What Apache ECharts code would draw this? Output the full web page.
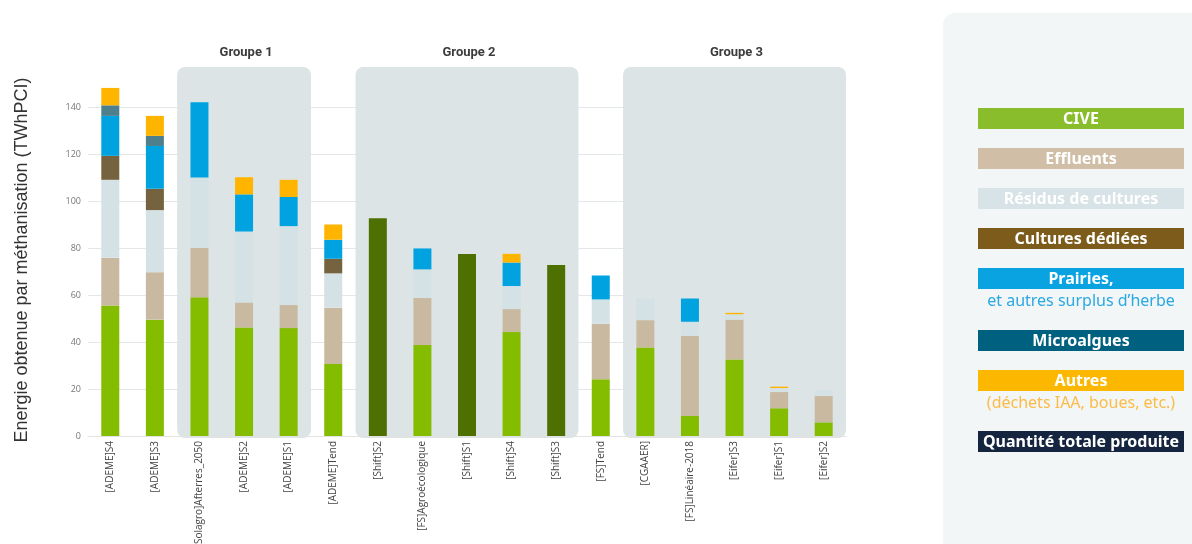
<!DOCTYPE html>
<html>
<head>
<meta charset="utf-8">
<script src="https://cdn.jsdelivr.net/npm/echarts@6/dist/echarts.min.js"></script>
<style>
  html, body { margin: 0; padding: 0; background: #fff; }
  #chart { width: 1192px; height: 544px; }
</style>
</head>
<body>
<div id="chart"></div>
<script>
// scénarios (axe des x)
const categories = ['[ADEME]S4', '[ADEME]S3', '[Solagro]Afterres_2050', '[ADEME]S2', '[ADEME]S1', '[ADEME]Tend',
    '[Shift]S2', '[FS]Agroécologique', '[Shift]S1', '[Shift]S4', '[Shift]S3', '[FS]Tend',
    '[CGAAER]', '[FS]Linéaire-2018', '[Eifer]S3', '[Eifer]S1', '[Eifer]S2'];

// groupe de chaque scénario (null = hors groupe)
const groupOf = [null, null, 1, 1, 1, null, 2, 2, 2, 2, 2, null, 3, 3, 3, 3, 3];
const groupNames = ['Groupe 1', 'Groupe 2', 'Groupe 3'];

// TWhPCI par gisement
const cive      = [55.5, 49.5, 59, 46.2, 45.9, 30.6, null, 38.7, null, 44.2, null, 24.1, 37.7, 8.5, 32.6, 11.8, 5.8];
const effluents = [20.3, 20.2, 21, 10.6, 9.8, 24, null, 20, null, 9.8, null, 23.6, 11.6, 34.1, 16.9, 6.9, 11.2];
const residus   = [33.2, 26.4, 30, 30.2, 33.6, 14.6, null, 12.2, null, 9.8, null, 10.4, 9.2, 6, 2.3, 1.7, 2.5];
const cultures  = [10.2, 9.1, null, null, null, 6.2, null, null, null, null, null, null, null, null, null, null, null];
const prairies  = [17, 18.2, 32, 15.8, 12.4, 8.1, null, 8.9, null, 10, null, 10.2, null, 9.9, null, null, null];
const microalg  = [4.5, 4.3, null, null, null, null, null, null, null, null, null, null, null, null, null, null, null];
const autres    = [7.4, 8.5, null, 7.3, 7.3, 6.5, null, null, null, 3.7, null, null, null, null, 0.6, 0.6, null];
const totale    = [null, null, null, null, null, null, 92.7, null, 77.4, null, 72.8, null, null, null, null, null, null];

const yTicks = { min: 0, max: 157, interval: 20 };

const seriesDefs = [
    { name: 'CIVE', data: cive, color: '#84bc00' },
    { name: 'Effluents', data: effluents, color: '#c9b9a1' },
    { name: 'Résidus de cultures', data: residus, color: '#d4e1e5' },
    { name: 'Cultures dédiées', data: cultures, color: '#75633f' },
    { name: 'Prairies', data: prairies, color: '#00a3e0' },
    { name: 'Microalgues', data: microalg, color: '#4d808c' },
    { name: 'Autres', data: autres, color: '#ffb500' },
    { name: 'Quantité totale produite', data: totale, color: '#4e7000' }
];

// légende (panneau de droite)
const legendItems = [
    { label: 'CIVE', color: '#8abd2b' },
    { label: 'Effluents', color: '#d0bea6' },
    { label: 'Résidus de cultures', color: '#d7e3e6' },
    { label: 'Cultures dédiées', color: '#7d5c1b' },
    { label: 'Prairies,', color: '#08a3e0', sub: 'et autres surplus d\u2019herbe', subColor: '#29a8e2' },
    { label: 'Microalgues', color: '#00607f' },
    { label: 'Autres', color: '#fcb800', sub: '(déchets IAA, boues, etc.)', subColor: '#fbbb47' },
    { label: 'Quantité totale produite', color: '#15253f' }
];

// un cadre par groupe : [premier index, dernier index, hauteur]
const groupBoxes = groupNames.map((name, k) => {
    const idx = groupOf.map((g, i) => g === k + 1 ? i : -1).filter(i => i >= 0);
    return [idx[0], idx[idx.length - 1], yTicks.max];
});

function renderGroup(params, api) {
    const a = api.coord([api.value(0), api.value(2)]);
    const b = api.coord([api.value(1), 0]);
    const bw = api.size([1, 0])[0];
    const x = a[0] - bw / 2;
    const w = b[0] - a[0] + bw;
    return {
        type: 'group',
        children: [{
            type: 'rect',
            shape: { x: x, y: a[1], width: w, height: b[1] - a[1] + 2, r: 8 },
            style: { fill: '#dce4e6' }
        }, {
            type: 'text',
            x: x + w / 2 + 2,
            y: a[1] - 14,
            style: {
                text: groupNames[params.dataIndex],
                font: 'bold 13px Roboto',
                fill: '#3c3c3c',
                align: 'center',
                verticalAlign: 'middle'
            }
        }]
    };
}

const chart = echarts.init(document.getElementById('chart'), null, { renderer: 'canvas' });

const graphics = [
    {
        type: 'rect', left: 943, top: 13, z: 0,
        shape: { width: 270, height: 545, r: 12 },
        style: { fill: '#f3f6f7' }
    },
    {
        type: 'text', x: 22, y: 260, rotation: Math.PI / 2,
        style: {
            text: 'Energie obtenue par méthanisation (TWhPCI)',
            font: '18px "Liberation Sans"', fill: '#333',
            align: 'center', verticalAlign: 'middle'
        }
    }
];

const boxTops = [108, 148, 188, 228, 268, 330, 370, 431];
legendItems.forEach((it, k) => {
    const top = boxTops[k];
    graphics.push({
        type: 'rect', left: 978, top: top, z: 1,
        shape: { width: 206, height: 21 },
        style: { fill: it.color }
    });
    graphics.push({
        type: 'text', x: 1081, y: top + 11, z: 2,
        style: {
            text: it.label, fill: '#fff',
            font: 'bold 16px "Noto Sans"',
            align: 'center', verticalAlign: 'middle'
        }
    });
    if (it.sub) {
        graphics.push({
            type: 'text', x: 1081, y: top + 33, z: 2,
            style: {
                text: it.sub, fill: it.subColor,
                font: '16px "Noto Sans"',
                align: 'center', verticalAlign: 'middle'
            }
        });
    }
});

const option = {
    animation: false,
    grid: { left: 88, right: 346, top: 67, bottom: 108, outerBoundsMode: 'none', containLabel: false },
    xAxis: {
        type: 'category',
        data: categories,
        axisLine: { lineStyle: { color: '#e2e2e2' } },
        axisTick: { show: false },
        axisLabel: {
            rotate: 90,
            interval: 0,
            fontSize: 10,
            fontFamily: '"Open Sans"',
            color: '#444',
            margin: 5
        },
        z: 3
    },
    yAxis: {
        type: 'value',
        min: yTicks.min,
        max: yTicks.max,
        interval: yTicks.interval,
        axisLine: { show: false },
        axisTick: { show: false },
        axisLabel: { fontSize: 9, color: '#777', margin: 7, showMaxLabel: false, fontFamily: '"Open Sans"' },
        splitLine: { showMaxLine: false, lineStyle: { color: '#e4e7e8' } }
    },
    series: [{
        type: 'custom',
        name: 'groupes',
        silent: true,
        clip: false,
        z: 1,
        renderItem: renderGroup,
        encode: { x: [0, 1], y: 2 },
        data: groupBoxes
    }].concat(seriesDefs.map(s => ({
        type: 'bar',
        name: s.name,
        stack: 'total',
        barWidth: 18,
        z: 2,
        itemStyle: { color: s.color },
        data: s.data
    }))),
    graphic: graphics
};

chart.setOption(option);
</script>
</body>
</html>
